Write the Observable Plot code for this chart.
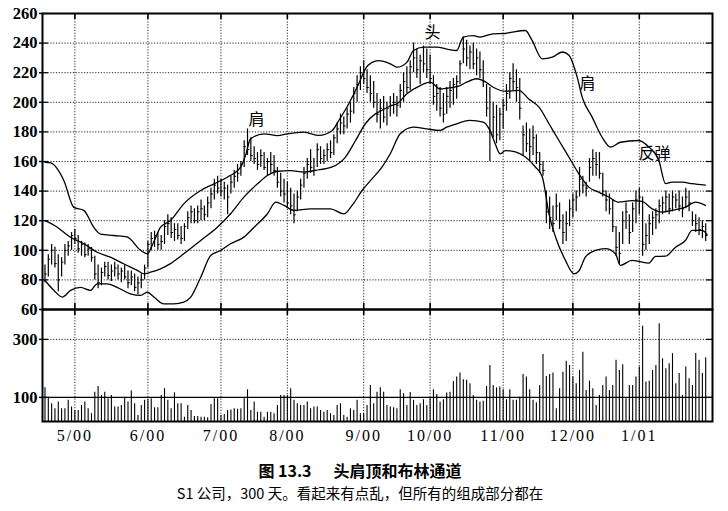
<!DOCTYPE html>
<html><head><meta charset="utf-8">
<script src="https://cdn.jsdelivr.net/npm/d3@7"></script>
<script src="https://cdn.jsdelivr.net/npm/@observablehq/plot@0.6"></script>
<style>
body{margin:0;background:#fff;width:728px;height:511px;position:relative;overflow:hidden;font-family:"Liberation Serif",serif;color:#000}
#price{position:absolute;left:0;top:0}
#vol{position:absolute;left:0;top:308px}
#cap1{position:absolute;left:0;top:459px;width:720px;text-align:center;font-family:"Noto Sans CJK SC",sans-serif;font-size:16px;font-weight:700;line-height:23px}
#cap1 .g{display:inline-block;width:22px}
#cap2{position:absolute;left:0;top:482px;width:720px;text-align:center;font-family:"Noto Sans CJK SC",sans-serif;font-size:14.5px;line-height:21px}
#vol g[aria-label="x-axis tick label"] text{letter-spacing:2px}
</style></head><body>
<div id="price"></div>
<div id="vol"></div>
<div id="cap1">图 13.3<span class="g"></span>头肩顶和布林通道</div>
<div id="cap2">S1 公司，300 天。看起来有点乱，但所有的组成部分都在</div>
<script>
// ---- data ----
const high = [
90,97,104,102,97,95,104,106,112,114,
110,106,105,104,102,96,90,88,92,92,
90,92,90,88,90,86,86,84,82,84,
90,106,112,113,112,110,120,124,122,118,
118,116,118,126,130,128,130,134,130,136,
142,148,150,148,146,144,150,154,158,160,
174,182,176,170,166,168,166,162,166,164,
156,152,148,146,142,138,140,148,156,162,
168,162,172,170,168,172,174,178,186,192,
190,196,200,210,218,224,228,222,218,214,
206,202,204,200,204,206,204,212,220,224,
228,240,236,232,238,236,232,218,212,210,
206,210,214,216,218,228,244,242,238,240,
236,234,228,212,210,200,198,196,202,212,
220,226,222,216,184,186,182,184,178,166,
160,140,136,130,138,132,124,126,134,138,
140,156,150,146,162,168,166,166,152,140,
138,134,116,112,126,132,124,132,140,142,
136,118,124,126,128,134,136,140,138,140,
138,140,136,142,140,126,124,122,120,118];
const low = [
78,82,90,88,72,82,90,96,100,104,
98,96,95,96,92,80,74,76,82,80,
79,82,80,78,80,74,76,72,70,74,
80,88,100,102,100,100,104,110,108,106,
107,104,106,114,118,118,118,120,120,122,
128,134,138,136,134,124,138,142,146,150,
156,164,160,158,154,156,154,150,152,150,
142,136,132,128,124,118,126,134,142,148,
152,150,156,158,158,160,162,164,172,178,
178,182,186,192,200,208,212,206,200,196,
186,182,186,184,190,192,190,196,200,206,
208,220,216,212,220,216,212,198,194,190,
186,192,196,198,202,212,226,224,222,222,
218,216,210,190,160,176,172,174,182,194,
202,208,200,188,164,166,160,164,158,152,
150,118,114,112,120,114,104,106,116,122,
126,136,138,136,146,150,150,148,136,126,
124,112,96,90,104,114,104,112,118,124,
96,100,104,110,114,118,124,126,124,126,
128,126,122,128,126,116,112,110,108,106];
const close = [
84,94,100,91,80,92,100,103,110,108,
101,104,97,101,95,84,78,85,89,83,
86,88,84,86,82,78,82,75,78,80,
88,104,108,110,104,106,116,118,112,114,
110,108,116,122,126,120,126,128,124,132,
138,144,142,140,142,136,146,150,152,158,
170,168,164,162,158,164,156,160,158,154,
146,140,138,132,130,124,136,144,152,158,
156,154,168,162,164,168,166,176,182,186,
184,192,194,206,212,220,216,210,206,200,
192,196,190,196,198,200,198,208,214,210,
224,230,222,228,226,222,216,204,206,196,
192,204,208,212,214,226,236,230,234,226,
230,222,214,196,180,190,178,192,198,206,
216,214,210,196,178,172,170,176,166,158,
154,126,122,118,130,120,112,118,128,134,
136,148,144,142,156,162,158,152,140,134,
128,116,102,98,120,126,112,128,134,136,
104,110,118,122,124,130,132,136,128,136,
134,130,128,136,132,120,118,114,116,110];
const volume = [
133,101,78,61,84,61,61,90,67,55,
55,72,84,61,44,118,138,107,118,95,
107,67,67,72,101,84,122,78,38,72,
90,93,95,64,64,107,130,90,61,116,
78,78,32,72,55,34,34,32,32,30,
76,95,95,38,41,55,57,61,59,61,
95,126,55,84,49,49,32,49,49,44,
72,107,107,107,130,90,78,72,72,84,
61,67,67,55,49,55,44,38,72,78,
38,32,61,55,90,44,44,72,141,78,
118,133,118,72,67,64,61,126,113,72,
117,90,72,78,92,72,95,126,110,84,
92,115,118,155,170,184,161,159,147,107,
90,84,87,138,210,141,133,136,126,92,
126,90,90,101,179,170,126,90,82,141,
248,172,179,184,61,130,187,225,210,170,
147,193,256,124,156,130,72,107,141,170,
124,141,228,193,213,95,141,141,170,205,
345,153,156,193,210,354,233,199,216,251,
147,182,107,205,164,141,251,228,182,237];
// Bollinger bands (trading-day index, price)
const upI = [0,1.7,5.7,8.7,11.7,14.7,16.7,20.7,24.7,28.8,30.8,32.8,34.8,37.8,41.8,46.9,50.9,54.9,58.9,60.4,61.9,66,70,73,78,82.5,86.5,88.5,91.5,94.5,96.5,98.5,100.5,104,106,109,111,114,118,121,124,126,129,131,135,138.6,140.7,144.7,146.7,149.8,152.8,155.8,157.8,160.3,161.8,164.8,167.8,170.3,173.3,178.8,181.9,184.9,186.9,188.9,191.9,194.9,198.9];
const upV = [159.5,159,147,129,127,115.5,111,110,109,100,97.6,106,115.6,120.1,131.4,140.4,144.9,149.4,156.2,164,175.3,178.7,177.5,178.7,179.8,177.6,181,187.7,199,212.5,222.6,227,228.2,226,223.7,227,235,237.3,237.3,236,235,244,245,244,246.3,246.5,247.4,248.5,241.8,229.4,230.5,234,231.8,217,203.5,190,176.4,169.7,173,174.2,169.7,160.7,145,146,146,145,144];
const midI = [0,3.7,7.7,11.7,15.7,19.7,23.7,27.8,29.8,31.8,34.8,37.8,41.8,46.9,51.9,55.9,59.9,64,67,70,74,78,81.5,86.5,90.5,93.5,96.5,99.5,101,104,106,109,113,116,119,121,125,127,130,132,135,138.6,142.7,145.7,148.8,151.8,154.8,157.8,160.8,163.8,166.8,169.8,172.8,176.8,179.8,182.9,185.9,188.9,192.9,195.9,198.9];
const midV = [120,115.6,108.8,104.4,98.7,95.4,90.9,86.4,84.1,85.2,87.5,91,97.6,106.6,115.6,124.7,135.9,144.9,150.5,153.4,153.9,152.8,154,156.3,163,174,185.5,192.2,194,197.5,199,205.7,211.3,213.6,209,209.5,211.3,213.6,215.9,214.7,210.2,207.5,208,202.3,196.7,185.5,174.2,163,151.7,142.7,139.3,136,132.5,133.6,133,128,125.8,127,129.2,132.5,130.3];
const lowI = [0,2.7,5.2,7.7,10.7,13.7,15.7,18.7,21.7,25.7,28.8,30.8,32.8,35.8,38.8,41.8,43.9,46.9,49.9,52.9,55.9,59.9,63,67,69.5,72,75,80,86,90,92.5,95.5,98.5,101.5,104,107,111,115,119,121,124,128,132,134,135.6,137.1,138.7,141.7,144.7,147.7,149.8,151.8,153.8,156.8,159.3,160.8,162.8,165.8,168.8,171.8,173.3,176.8,178.8,181.9,183.9,186.9,189.9,192.9,194.9,197.9,199.4];
const lowV = [79.6,72.9,68.4,72.9,75,72.9,77.3,77.3,75,70.6,69.5,71.7,68.4,63.8,63.8,65,68.3,81.8,96.5,99.9,104.4,108.9,115.6,124.7,132.5,130.3,126.9,128,128,124.6,130.3,140.4,148.3,156.2,165.2,178.7,183.2,182,181,183.2,185.5,187.8,186.6,181,172,165.2,167.4,166.5,163,156.3,149.5,124.6,108.8,93,84.1,86,95.5,100,101.1,97.7,89.8,93.2,92.5,91.4,95.9,96,102.1,106.6,113.4,113.4,110.7];
const monthIdx = [9,31,53,73,96,116,138,159,179];
const monthLabels = ["5/00","6/00","7/00","8/00","9/00","10/00","11/00","12/00","1/01"];
const priceTicks = [60,80,100,120,140,160,180,200,220,240,260];
const volTicks = [100,300];
const annoText = ["肩","头","肩","反弹"];
const annoI = [63.7,116.7,163.4,183.6];
const annoP = [188.4,247,212.7,165.4];

// ---- build ----
const bars = close.map((c,i)=>({i, high:high[i], low:low[i], close:c}));
const vols = volume.map((v,i)=>({i, v}));
const band = (I,V)=>I.map((x,k)=>({i:x, v:V[k]}));
const annos = annoText.map((t,k)=>({t, i:annoI[k], p:annoP[k]}));
const xDomain = [-0.75, 201.05];
const dot = {stroke:"#000", strokeOpacity:0.85, strokeWidth:1, strokeDasharray:"1.2,1.6"};
const axisFont = {fontSize:16.5, fontWeight:"bold", fontFamily:"Liberation Serif", tickSize:3, tickPadding:2, strokeWidth:1.5, label:null};
const bandStyle = {x:"i", y:"v", curve:"monotone-x", stroke:"#000", strokeWidth:1.3};

const price = Plot.plot({
  width:728, height:310, marginLeft:42, marginRight:16, marginTop:13, marginBottom:1,
  style:{background:"transparent", overflow:"visible"},
  x:{domain:xDomain, axis:null, label:null},
  y:{domain:[60,260], axis:null, label:null},
  marks:[
    Plot.gridY(priceTicks.slice(1,-1), dot),
    Plot.gridX(monthIdx, dot),
    Plot.axisY(priceTicks, axisFont),
    Plot.line(band(upI,upV), bandStyle),
    Plot.line(band(midI,midV), bandStyle),
    Plot.line(band(lowI,lowV), bandStyle),
    Plot.ruleX(bars, {x:"i", y1:"low", y2:"high", strokeWidth:1.2}),
    Plot.ruleY(bars, {y:"close", x1:"i", x2:d=>d.i+0.7, strokeWidth:1}),
    Plot.text(annos, {x:"i", y:"p", text:"t", fontSize:16, fontFamily:"Noto Sans CJK SC", fill:"#000"}),
    Plot.ruleX(monthIdx, {insetBottom:290, strokeWidth:1.6}),
    Plot.ruleX(monthIdx, {insetTop:290, strokeWidth:1.6}),
    Plot.ruleY(priceTicks, {insetRight:664, strokeWidth:1.2}),
    Plot.ruleY(priceTicks, {insetLeft:664, strokeWidth:1.2}),
    Plot.frame({stroke:"#000", strokeWidth:2})
  ]
});
document.getElementById("price").append(price);

const vol = Plot.plot({
  width:728, height:143, marginLeft:42, marginRight:16, marginTop:1, marginBottom:30,
  style:{background:"transparent", overflow:"visible"},
  x:{domain:xDomain, label:null},
  y:{domain:[17,403], axis:null, label:null},
  marks:[
    Plot.gridY([300], dot),
    Plot.gridX(monthIdx, dot),
    Plot.ruleY([100], {stroke:"#000", strokeWidth:1.3}),
    Plot.ruleX(vols, {x:"i", y1:17, y2:"v", strokeWidth:1.1}),
    Plot.axisY(volTicks, axisFont),
    Plot.axisX(monthIdx, {tickSize:0, tickPadding:8, fontSize:16, fontFamily:"Liberation Serif", label:null, tickFormat:(d)=>monthLabels[monthIdx.indexOf(d)]}),
    Plot.ruleX(monthIdx, {insetBottom:106, strokeWidth:1.6}),
    Plot.ruleY(volTicks, {insetRight:664, strokeWidth:1.2}),
    Plot.ruleY(volTicks, {insetLeft:664, strokeWidth:1.2}),
    Plot.frame({stroke:"#000", strokeWidth:2})
  ]
});
document.getElementById("vol").append(vol);
</script>
</body></html>
